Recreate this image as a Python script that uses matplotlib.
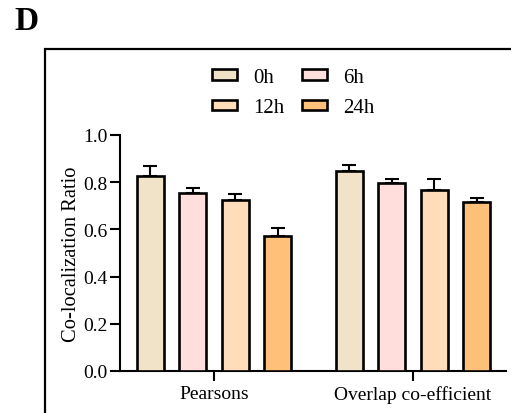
import matplotlib
matplotlib.use("Agg")
import matplotlib.pyplot as plt
from matplotlib.patches import Rectangle, Patch
import numpy as np

FAM = "Liberation Serif"
plt.rcParams['font.family'] = [FAM, 'DejaVu Serif']
plt.rcParams['font.serif'] = [FAM, 'DejaVu Serif']

categories = ["Pearsons", "Overlap co-efficient"]
series = ["0h", "6h", "12h", "24h"]
means = {
    "0h": [0.828, 0.849],
    "6h": [0.754, 0.798],
    "12h": [0.726, 0.767],
    "24h": [0.571, 0.716],
}
errors = {
    "0h": [0.042, 0.025],
    "6h": [0.021, 0.016],
    "12h": [0.023, 0.048],
    "24h": [0.035, 0.018],
}
colors = ["#F0E3C7", "#FFDEDC", "#FFDDBB", "#FFC07A"]
yticks = [0.0, 0.2, 0.4, 0.6, 0.8, 1.0]

W, H = 511, 414
FS = 14
fig = plt.figure(figsize=(W / 100, H / 100), dpi=100)

# panel frame (cropped at right/bottom)
fig.patches.append(Rectangle((45 / W, -0.05), 1.0, 1 - 49.5 / H + 0.05,
                             transform=fig.transFigure, fill=False,
                             edgecolor="black", linewidth=1.6, zorder=0))
fig.text(14 / W, 1 - 21 / H, "D", fontsize=24, fontweight="bold",
         family=FAM, va="center", ha="left")

ax_l, ax_r, ax_b, ax_t = 120, 506, 372, 136
ax = fig.add_axes([ax_l / W, 1 - ax_b / H, (ax_r - ax_l) / W, (ax_b - ax_t) / H])

step = 0.2135
width = 0.136
x0 = np.arange(len(categories))
for i, s in enumerate(series):
    xs = x0 + (i - 1.5) * step
    ax.errorbar(xs, means[s], yerr=[np.zeros(len(xs)), errors[s]], fmt="none",
                ecolor="black", elinewidth=1.5, capsize=5.2, capthick=1.5, zorder=2)
    ax.bar(xs, means[s], width=width, color=colors[i], edgecolor="black",
           linewidth=1.9, zorder=3, label=s)

ax.set_xlim(-0.472, 1.468)
ax.set_ylim(0, 1.0)
ax.set_yticks(yticks)
ax.set_yticklabels([f"{v:.1f}" for v in yticks], family=FAM, fontsize=FS)
ax.set_xticks(x0)
ax.set_xticklabels(categories, family=FAM, fontsize=FS)
for side in ["top", "right"]:
    ax.spines[side].set_visible(False)
for side in ["left", "bottom"]:
    ax.spines[side].set_linewidth(1.5)
ax.tick_params(axis="both", direction="out", length=7.2, width=1.5, pad=1.5)
ax.tick_params(axis="x", pad=3)
ax.set_ylabel("Co-localization Ratio", family=FAM, fontsize=14.8, labelpad=2)
ax.patch.set_alpha(0)

handles = [Patch(facecolor=colors[i], edgecolor="black", linewidth=1.9)
           for i in range(4)]
order = [0, 2, 1, 3]
leg = fig.legend([handles[k] for k in order], [series[k] for k in order],
                 ncol=2, frameon=False, prop={"family": FAM, "size": 15},
                 loc="upper left", bbox_to_anchor=(212 / W, 1 - 69 / H),
                 borderpad=0, borderaxespad=0,
                 handlelength=1.2, handleheight=0.4, handletextpad=0.77,
                 columnspacing=0.87, labelspacing=0.55)

fig.savefig("out.png", dpi=100)
